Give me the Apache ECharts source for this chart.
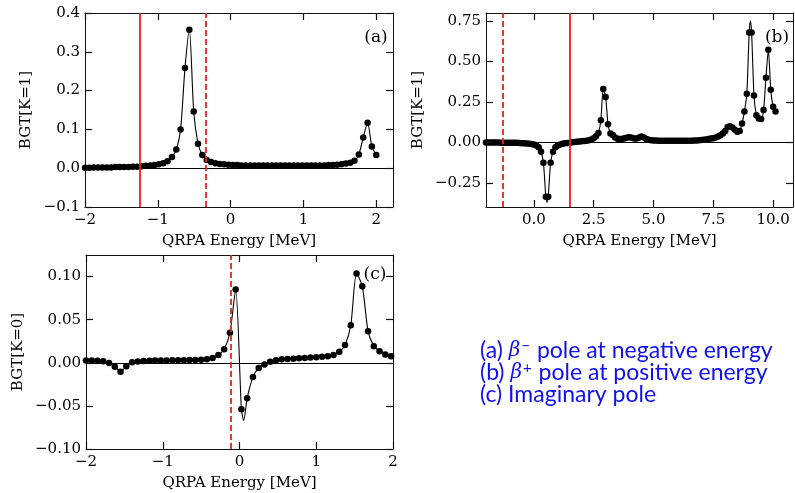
<!DOCTYPE html>
<html>
<head>
<meta charset="utf-8">
<script src="https://cdn.jsdelivr.net/npm/echarts@6/dist/echarts.min.js"></script>
<style>
  html, body { margin: 0; padding: 0; background: #fff; }
  #chart { width: 795px; height: 493px; }
</style>
</head>
<body>
<div id="chart"></div>
<script>
// ---- Panel (a): BGT[K=1], beta- pole at negative energy ----
const aEnergy = [-2.000,-1.940,-1.881,-1.821,-1.761,-1.701,-1.642,-1.582,-1.522,-1.463,
  -1.403,-1.343,-1.284,-1.224,-1.164,-1.104,-1.045,-0.985,-0.925,-0.866,
  -0.806,-0.746,-0.687,-0.627,-0.567,-0.507,-0.448,-0.388,-0.328,-0.269,
  -0.209,-0.149,-0.090,-0.030,0.030,0.090,0.149,0.209,0.269,0.328,
  0.388,0.448,0.507,0.567,0.627,0.687,0.746,0.806,0.866,0.925,
  0.985,1.045,1.104,1.164,1.224,1.284,1.343,1.403,1.463,1.522,
  1.582,1.642,1.701,1.761,1.821,1.881,1.940,2.000];
const aStrength = [0.001,0.001,0.002,0.002,0.002,0.002,0.002,0.003,0.003,0.003,
  0.003,0.004,0.004,0.005,0.006,0.007,0.008,0.010,0.013,0.018,
  0.029,0.048,0.100,0.258,0.357,0.146,0.063,0.034,0.021,0.016,
  0.013,0.011,0.010,0.009,0.008,0.008,0.007,0.007,0.007,0.007,
  0.007,0.007,0.007,0.007,0.007,0.007,0.007,0.007,0.007,0.007,
  0.007,0.007,0.007,0.007,0.007,0.007,0.008,0.008,0.009,0.010,
  0.012,0.014,0.019,0.035,0.079,0.117,0.056,0.034];
const aCurveExtra = [];
const aPoles = { solid: -1.25, dashed: -0.335 };
const aXTicks = [-2, -1, 0, 1, 2];
const aYTicks = [-0.1, 0, 0.1, 0.2, 0.3, 0.4];

// ---- Panel (b): BGT[K=1], beta+ pole at positive energy ----
const bEnergy = [-2.0,-1.9,-1.8,-1.7,-1.6,-1.5,-1.4,-1.3,-1.2,-1.1,
  -1.0,-0.9,-0.8,-0.7,-0.6,-0.5,-0.4,-0.3,-0.2,-0.1,
  0.0,0.1,0.2,0.3,0.4,0.5,0.6,0.7,0.8,0.9,
  1.0,1.1,1.2,1.3,1.4,1.5,1.6,1.7,1.8,1.9,
  2.0,2.1,2.2,2.3,2.4,2.5,2.6,2.7,2.8,2.9,
  3.0,3.1,3.2,3.3,3.4,3.5,3.6,3.7,3.8,3.9,
  4.0,4.1,4.2,4.3,4.4,4.5,4.6,4.7,4.8,4.9,
  5.0,5.1,5.2,5.3,5.4,5.5,5.6,5.7,5.8,5.9,
  6.0,6.1,6.2,6.3,6.4,6.5,6.6,6.7,6.8,6.9,
  7.0,7.1,7.2,7.3,7.4,7.5,7.6,7.7,7.8,7.9,
  8.0,8.1,8.2,8.3,8.4,8.5,8.6,8.7,8.8,8.9,
  9.0,9.1,9.2,9.3,9.4,9.5,9.6,9.7,9.8,9.9,
  10.0,10.1];
const bStrength = [-0.001,-0.001,-0.001,-0.001,-0.001,-0.001,-0.002,-0.002,-0.002,-0.002,
  -0.002,-0.003,-0.003,-0.003,-0.004,-0.005,-0.006,-0.007,-0.009,-0.011,
  -0.014,-0.020,-0.030,-0.058,-0.126,-0.336,-0.336,-0.126,-0.058,-0.030,
  -0.020,-0.013,-0.009,-0.006,-0.004,-0.002,0.000,0.002,0.003,0.005,
  0.006,0.008,0.010,0.013,0.018,0.025,0.038,0.058,0.137,0.330,
  0.280,0.112,0.055,0.045,0.030,0.022,0.020,0.022,0.026,0.030,
  0.032,0.028,0.024,0.024,0.030,0.036,0.030,0.021,0.016,0.013,
  0.012,0.011,0.010,0.010,0.010,0.010,0.010,0.010,0.010,0.010,
  0.010,0.010,0.010,0.010,0.010,0.010,0.010,0.011,0.012,0.013,
  0.014,0.016,0.018,0.020,0.023,0.026,0.030,0.036,0.044,0.054,
  0.070,0.095,0.100,0.092,0.078,0.066,0.070,0.117,0.190,0.300,
  0.680,0.680,0.290,0.168,0.148,0.145,0.200,0.400,0.572,0.326,
  0.220,0.190];
const bCurveExtra = [[0.55, -0.37], [9.05, 0.75]];
const bPoles = { solid: 1.52, dashed: -1.3 };
const bXTicks = [0, 2.5, 5, 7.5, 10];
const bYTicks = [-0.25, 0, 0.25, 0.5, 0.75];

// ---- Panel (c): BGT[K=0], imaginary pole ----
const cEnergy = [-2.000,-1.925,-1.850,-1.775,-1.700,-1.625,-1.550,-1.475,-1.400,-1.325,
  -1.250,-1.175,-1.100,-1.025,-0.950,-0.875,-0.800,-0.725,-0.650,-0.575,
  -0.500,-0.425,-0.350,-0.275,-0.200,-0.125,-0.050,0.025,0.100,0.175,
  0.250,0.325,0.400,0.475,0.550,0.625,0.700,0.775,0.850,0.925,
  1.000,1.075,1.150,1.225,1.300,1.375,1.450,1.525,1.600,1.675,
  1.750,1.825,1.900,1.975];
const cStrength = [0.0025,0.0025,0.0023,0.0018,-0.0002,-0.0045,-0.0105,-0.0040,0.0005,0.0015,
  0.0020,0.0023,0.0025,0.0026,0.0027,0.0028,0.0029,0.0030,0.0031,0.0033,
  0.0035,0.0040,0.0054,0.0089,0.0158,0.0348,0.0850,-0.0540,-0.0410,-0.0166,
  -0.0060,-0.0020,0.0012,0.0030,0.0040,0.0045,0.0048,0.0052,0.0056,0.0060,
  0.0064,0.0070,0.0077,0.0089,0.0127,0.0205,0.0436,0.1035,0.0888,0.0367,
  0.0193,0.0135,0.0097,0.0077];
const cCurveExtra = [[0.055, -0.067]];
const cPoles = { dashed: -0.12 };
const cXTicks = [-2, -1, 0, 1, 2];
const cYTicks = [-0.10, -0.05, 0, 0.05, 0.10];

const legendLines = [
  ['(a) ', '\u03b2', '\u2212', ' pole at negative energy'],
  ['(b) ', '\u03b2', '+', ' pole at positive energy'],
  ['(c) Imaginary pole', '', '', '']
];

// ---- helpers ----
const SERIF = 'DejaVu Serif';
const RED = '#f01e1e';
const TICK_PX = 7;
const fmt = d => v => (v < -1e-9 ? '\u2212' : '') + Math.abs(v).toFixed(d);

function pairs(xs, ys) { return xs.map((x, i) => [x, ys[i]]); }
function curve(xs, ys, extra) {
  return pairs(xs, ys).concat(extra).sort((p, q) => p[0] - q[0]);
}

const grids = [
  { left: 85, top: 13, width: 308, height: 194 },
  { left: 486, top: 13, width: 307, height: 194 },
  { left: 86, top: 255, width: 307, height: 194 }
];

const panels = [
  { x: aEnergy, y: aStrength, extra: aCurveExtra, poles: aPoles, xr: [-2, 2.23], yr: [-0.1, 0.4],
    xt: aXTicks, yt: aYTicks, xd: 0, yd: 1, yname: 'BGT[K=1]', ygap: 51, tag: '(a)', tagPos: [376, 38] },
  { x: bEnergy, y: bStrength, extra: bCurveExtra, poles: bPoles, xr: [-2, 10.83], yr: [-0.4, 0.8],
    xt: bXTicks, yt: bYTicks, xd: 1, yd: 2, yname: 'BGT[K=1]', ygap: 60, tag: '(b)', tagPos: [777, 38] },
  { x: cEnergy, y: cStrength, extra: cCurveExtra, poles: cPoles, xr: [-2, 2], yr: [-0.1, 0.125],
    xt: cXTicks, yt: cYTicks, xd: 0, yd: 2, yname: 'BGT[K=0]', ygap: 60, tag: '(c)', tagPos: [375, 275] }
];

const xAxes = [], yAxes = [], series = [], graphics = [];
panels.forEach((p, i) => {
  const frame = { show: true, onZero: false, lineStyle: { color: '#111', width: 1 } };
  const noSplit = { show: false };
  xAxes.push({
    type: 'value', gridIndex: i, min: p.xr[0], max: p.xr[1], position: 'bottom',
    name: 'QRPA Energy [MeV]', nameLocation: 'middle', nameGap: 27,
    nameTextStyle: { fontFamily: SERIF, fontSize: 15, color: '#000' },
    axisLine: frame, axisTick: { show: false }, splitLine: noSplit,
    axisLabel: { customValues: p.xt, formatter: fmt(p.xd), margin: 6, fontFamily: SERIF, fontSize: 15, color: '#000' }
  });
  xAxes.push({
    type: 'value', gridIndex: i, min: p.xr[0], max: p.xr[1], position: 'top',
    axisLine: frame, axisTick: { show: false }, splitLine: noSplit, axisLabel: { show: false }
  });
  yAxes.push({
    type: 'value', gridIndex: i, min: p.yr[0], max: p.yr[1], position: 'left',
    name: p.yname, nameLocation: 'middle', nameGap: p.ygap, nameRotate: 90,
    nameTextStyle: { fontFamily: SERIF, fontSize: 15, color: '#000' },
    axisLine: frame, axisTick: { show: false }, splitLine: noSplit,
    axisLabel: { customValues: p.yt, formatter: fmt(p.yd), margin: 5, fontFamily: SERIF, fontSize: 15, color: '#000' }
  });
  yAxes.push({
    type: 'value', gridIndex: i, min: p.yr[0], max: p.yr[1], position: 'right',
    axisLine: frame, axisTick: { show: false }, splitLine: noSplit, axisLabel: { show: false }
  });

  const xi = 2 * i, yi = 2 * i;
  const poleLines = [];
  if (p.poles.solid !== undefined) poleLines.push({ xAxis: p.poles.solid, lineStyle: { type: 'solid' } });
  if (p.poles.dashed !== undefined) poleLines.push({ xAxis: p.poles.dashed, lineStyle: { type: [6, 3] } });

  // inward tick marks on all four sides, placed in data space from the tick lists
  const [x0, x1] = p.xr, [y0, y1] = p.yr;
  const dx = (x1 - x0) * TICK_PX / grids[i].width;
  const dy = (y1 - y0) * TICK_PX / grids[i].height;
  const tickSegs = [];
  p.xt.forEach(v => {
    tickSegs.push([{ coord: [v, y0] }, { coord: [v, y0 + dy] }]);
    tickSegs.push([{ coord: [v, y1] }, { coord: [v, y1 - dy] }]);
  });
  p.yt.forEach(v => {
    tickSegs.push([{ coord: [x0, v] }, { coord: [x0 + dx, v] }]);
    tickSegs.push([{ coord: [x1, v] }, { coord: [x1 - dx, v] }]);
  });

  // zero reference line
  series.push({
    type: 'line', xAxisIndex: xi, yAxisIndex: yi, data: [], silent: true, z: 1,
    markLine: { silent: true, symbol: 'none', label: { show: false }, animation: false,
      lineStyle: { color: '#000', width: 1, type: 'solid' }, data: [{ yAxis: 0 }] }
  });
  // axis tick marks
  series.push({
    type: 'line', xAxisIndex: xi, yAxisIndex: yi, data: [], silent: true, z: 4,
    markLine: { silent: true, symbol: 'none', label: { show: false }, animation: false,
      lineStyle: { color: '#111', width: 1.2, type: 'solid' }, data: tickSegs }
  });
  // smooth strength curve
  series.push({
    type: 'line', xAxisIndex: xi, yAxisIndex: yi, data: curve(p.x, p.y, p.extra),
    showSymbol: false, smooth: 0.25, lineStyle: { color: '#000', width: 1.1 }, z: 2, animation: false
  });
  // computed points
  series.push({
    type: 'scatter', xAxisIndex: xi, yAxisIndex: yi, data: pairs(p.x, p.y),
    symbol: 'circle', symbolSize: 6.5, itemStyle: { color: '#000', opacity: 1 }, z: 3, animation: false
  });
  // pole positions
  series.push({
    type: 'line', xAxisIndex: xi, yAxisIndex: yi, data: [], silent: true, z: 5,
    markLine: { silent: true, symbol: 'none', label: { show: false }, animation: false,
      lineStyle: { color: RED, width: 1.8 }, data: poleLines }
  });

  graphics.push({
    type: 'text', x: p.tagPos[0], y: p.tagPos[1], z: 10,
    style: { text: p.tag, font: '17px "DejaVu Serif"', fill: '#000', align: 'center', verticalAlign: 'middle' }
  });
});

// legend text block
const BLUE = '#1010f0';
legendLines.forEach((l, k) => {
  let txt = '{n|' + l[0] + '}';
  if (l[1]) txt += '{g|' + l[1] + '}{s|' + l[2] + '}{n|' + l[3] + '}';
  graphics.push({
    type: 'text', x: 480, y: 351 + k * 21.7, z: 10,
    style: {
      text: txt, align: 'left', verticalAlign: 'middle',
      rich: {
        n: { fontFamily: 'Lato', fontSize: 23, fill: BLUE, color: BLUE, lineHeight: 24 },
        g: { fontFamily: 'DejaVu Serif', fontStyle: 'italic', fontSize: 20, fill: BLUE, color: BLUE, lineHeight: 24 },
        s: { fontFamily: 'Lato', fontSize: 15, fill: BLUE, color: BLUE, lineHeight: 24, verticalAlign: 'top', padding: [0, 1, 0, 1] }
      }
    }
  });
});

const chart = echarts.init(document.getElementById('chart'));
chart.setOption({
  backgroundColor: '#fff',
  animation: false,
  grid: grids.map(g => Object.assign({ outerBoundsMode: 'none' }, g)),
  xAxis: xAxes,
  yAxis: yAxes,
  series: series,
  graphic: graphics
});
</script>
</body>
</html>
